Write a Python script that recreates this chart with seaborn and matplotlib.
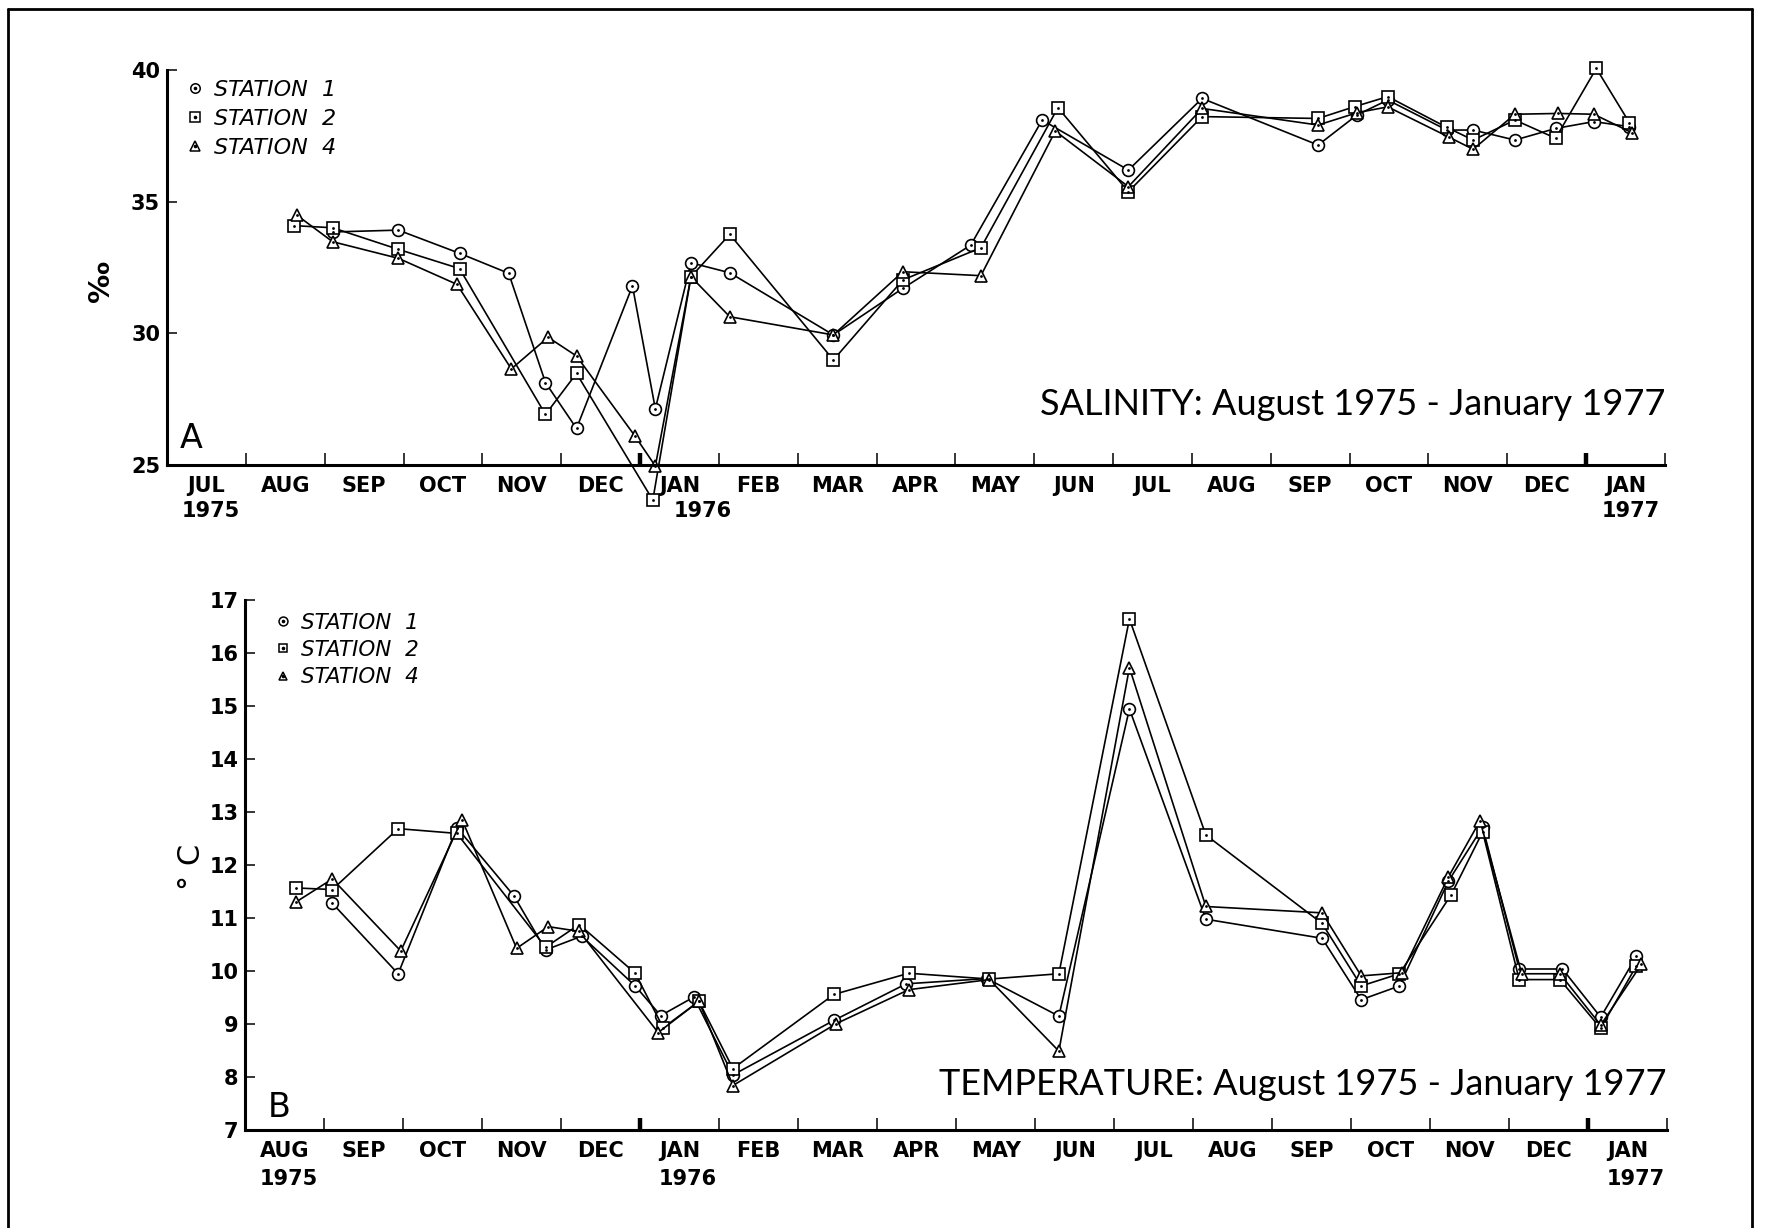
import numpy as np
import pandas as pd
import matplotlib
matplotlib.use("Agg")
import matplotlib.pyplot as plt
import seaborn as sns
from matplotlib.lines import Line2D
from matplotlib.legend_handler import HandlerTuple

# ------------------------------------------------------------------ data
STATIONS = ["STATION  1", "STATION  2", "STATION  4"]

MONTH_LABELS = ["JUL", "AUG", "SEP", "OCT", "NOV", "DEC", "JAN", "FEB", "MAR",
                "APR", "MAY", "JUN", "JUL", "AUG", "SEP", "OCT", "NOV", "DEC", "JAN"]

# Salinity (per mille)
sal_dates_st1 = ["1975-09-04", "1975-09-29", "1975-10-23", "1975-11-11", "1975-11-25",
                 "1975-12-07", "1975-12-29", "1976-01-07", "1976-01-21", "1976-02-05",
                 "1976-03-15", "1976-04-11", "1976-05-07", "1976-06-04", "1976-07-07",
                 "1976-08-05", "1976-09-19", "1976-10-04", "1976-10-16", "1976-11-08",
                 "1976-11-18", "1976-12-04", "1976-12-20", "1977-01-04", "1977-01-18"]
sal_st1 = [33.85, 33.92, 33.04, 32.28, 28.13, 26.39, 31.80, 27.13, 32.68, 32.30,
           29.94, 31.71, 33.35, 38.10, 36.20, 38.92, 37.15, 38.30, 38.86, 37.72,
           37.72, 37.34, 37.78, 38.04, 37.85]

sal_dates_st2 = ["1975-08-20", "1975-09-04", "1975-09-29", "1975-10-23", "1975-11-25",
                 "1975-12-07", "1976-01-06", "1976-01-21", "1976-02-05", "1976-03-15",
                 "1976-04-11", "1976-05-11", "1976-06-10", "1976-07-07", "1976-08-05",
                 "1976-09-19", "1976-10-03", "1976-10-16", "1976-11-08", "1976-11-18",
                 "1976-12-04", "1976-12-20", "1977-01-05", "1977-01-18"]
sal_st2 = [34.09, 34.01, 33.19, 32.46, 26.92, 28.48, 23.67, 32.15, 33.76, 28.99,
           32.03, 33.25, 38.57, 35.38, 38.23, 38.16, 38.61, 38.99, 37.82, 37.34,
           38.10, 37.41, 40.06, 38.00]

sal_dates_st4 = ["1975-08-21", "1975-09-04", "1975-09-29", "1975-10-22", "1975-11-12",
                 "1975-11-26", "1975-12-07", "1975-12-30", "1976-01-07", "1976-01-21",
                 "1976-02-05", "1976-03-15", "1976-04-11", "1976-05-11", "1976-06-09",
                 "1976-07-07", "1976-08-05", "1976-09-19", "1976-10-04", "1976-10-16",
                 "1976-11-09", "1976-11-18", "1976-12-04", "1976-12-21", "1977-01-04",
                 "1977-01-19"]
sal_st4 = [34.49, 33.48, 32.85, 31.86, 28.65, 29.85, 29.14, 26.10, 24.96, 32.15,
           30.63, 29.94, 32.34, 32.19, 37.68, 35.57, 38.54, 37.91, 38.38, 38.60,
           37.44, 36.99, 38.32, 38.35, 38.32, 37.62]

# Temperature (deg C)
tmp_dates_st1 = ["1975-09-04", "1975-09-29", "1975-10-22", "1975-11-13", "1975-11-25",
                 "1975-12-09", "1975-12-30", "1976-01-09", "1976-01-22", "1976-02-06",
                 "1976-03-15", "1976-04-12", "1976-05-13", "1976-06-10", "1976-07-07",
                 "1976-08-06", "1976-09-20", "1976-10-05", "1976-10-20", "1976-11-08",
                 "1976-11-21", "1976-12-05", "1976-12-22", "1977-01-06", "1977-01-20"]
tmp_st1 = [11.28, 9.95, 12.71, 11.42, 10.40, 10.66, 9.72, 9.16, 9.51, 8.04,
           9.07, 9.76, 9.86, 9.15, 14.95, 10.98, 10.62, 9.46, 9.72, 11.70,
           12.72, 10.04, 10.04, 9.13, 10.28]

tmp_dates_st2 = ["1975-08-21", "1975-09-04", "1975-09-29", "1975-10-22", "1975-11-25",
                 "1975-12-08", "1975-12-30", "1976-01-10", "1976-01-24", "1976-02-06",
                 "1976-03-15", "1976-04-13", "1976-05-14", "1976-06-10", "1976-07-07",
                 "1976-08-06", "1976-09-20", "1976-10-05", "1976-10-20", "1976-11-09",
                 "1976-11-21", "1976-12-05", "1976-12-21", "1977-01-06", "1977-01-20"]
tmp_st2 = [11.57, 11.54, 12.69, 12.60, 10.45, 10.88, 9.96, 8.93, 9.43, 8.16,
           9.56, 9.96, 9.85, 9.95, 16.65, 12.57, 10.90, 9.72, 9.95, 11.44,
           12.63, 9.84, 9.84, 8.92, 10.10]

tmp_dates_st4 = ["1975-08-21", "1975-09-04", "1975-09-30", "1975-10-24", "1975-11-14",
                 "1975-11-26", "1975-12-08", "1976-01-08", "1976-01-24", "1976-02-06",
                 "1976-03-16", "1976-04-13", "1976-05-14", "1976-06-10", "1976-07-07",
                 "1976-08-06", "1976-09-20", "1976-10-05", "1976-10-21", "1976-11-08",
                 "1976-11-20", "1976-12-06", "1976-12-21", "1977-01-06", "1977-01-22"]
tmp_st4 = [11.31, 11.74, 10.38, 12.86, 10.43, 10.84, 10.75, 8.84, 9.43, 7.84,
           9.01, 9.65, 9.84, 8.49, 15.73, 11.22, 11.10, 9.91, 9.97, 11.78,
           12.84, 9.95, 9.95, 8.98, 10.13]


def month_position(dates):
    """Months since 1 July 1975, each calendar month drawn with equal width."""
    d = pd.to_datetime(pd.Series(dates))
    pos = (d.dt.year - 1975) * 12 + (d.dt.month - 7) + (d.dt.day - 1) / d.dt.days_in_month
    return pos.to_numpy(dtype=float)


def long_table(date_lists, value_lists):
    parts = [pd.DataFrame({"station": s, "month": month_position(d), "value": v})
             for s, d, v in zip(STATIONS, date_lists, value_lists)]
    return pd.concat(parts, ignore_index=True)


salinity = long_table([sal_dates_st1, sal_dates_st2, sal_dates_st4],
                      [sal_st1, sal_st2, sal_st4])
temperature = long_table([tmp_dates_st1, tmp_dates_st2, tmp_dates_st4],
                         [tmp_st1, tmp_st2, tmp_st4])

MARKERS = dict(zip(STATIONS, ["o", "s", "^"]))

# ------------------------------------------------------------------ style
sns.set_theme(style="ticks")
plt.rcParams["font.family"] = ["DejaVu Sans"]
plt.rcParams["axes.edgecolor"] = "black"
plt.rcParams["xtick.color"] = "black"
plt.rcParams["ytick.color"] = "black"
plt.rcParams["text.color"] = "black"

fig = plt.figure(figsize=(17.66, 12.28), dpi=100)
ax_s = fig.add_axes([0.0946, 0.6213, 0.8482, 0.3217])
ax_t = fig.add_axes([0.139, 0.0798, 0.8049, 0.4313])


def draw_series(ax, df):
    sns.lineplot(data=df, x="month", y="value", style="station", markers=MARKERS,
                 dashes=False, color="black", estimator=None, sort=False,
                 linewidth=1.2, markersize=8.5, markerfacecolor="white",
                 markeredgecolor="black", markeredgewidth=1.2, legend=False,
                 clip_on=False, ax=ax)
    sns.scatterplot(data=df, x="month", y="value", color="black", s=4,
                    linewidth=0, legend=False, clip_on=False, ax=ax, zorder=5)


def style_axis(ax, xmin, ylim, yticks, year_marks, year_offset):
    ax.set_xlim(xmin, 19)
    ax.set_ylim(*ylim)
    sns.despine(ax=ax)
    for side in ("left", "bottom"):
        ax.spines[side].set_linewidth(2.2)
        ax.spines[side].set_color("black")
    ax.set_xlabel("")
    ax.set_ylabel("")

    # month boundaries as ticks, month names centred between them
    ax.set_xticks(np.arange(xmin + 1, 20))
    ax.set_xticklabels([])
    ax.set_xticks(np.arange(xmin, 19) + 0.5, minor=True)
    ax.set_xticklabels(MONTH_LABELS[xmin:], minor=True, fontweight="bold", fontsize=15)
    ax.tick_params(axis="x", which="major", direction="in", length=8.5, width=1.1)
    ax.tick_params(axis="x", which="minor", length=0, pad=8)
    for t in ax.xaxis.get_major_ticks():
        if abs(t.get_loc() - 6) < 1e-6 or abs(t.get_loc() - 18) < 1e-6:
            t.tick1line.set_markeredgewidth(3.2)

    ax.set_yticks(yticks)
    ax.set_yticklabels([str(v) for v in yticks], fontweight="bold", fontsize=15)
    ax.tick_params(axis="y", direction="in", length=7, width=1.1, pad=5)

    for x, yr in year_marks:
        ax.annotate(yr, xy=(x, 0), xycoords=("data", "axes fraction"),
                    xytext=(0, year_offset), textcoords="offset points",
                    ha="center", va="center", fontsize=15, fontweight="bold")


def station_legend(ax, anchor, size, msize, spacing):
    handles = []
    for s in STATIONS:
        ring = Line2D([], [], ls="none", marker=MARKERS[s], ms=msize, mfc="white",
                      mec="black", mew=1.1)
        dot = Line2D([], [], ls="none", marker="o", ms=1.6, mfc="black", mec="black")
        handles.append((ring, dot))
    ax.legend(handles, STATIONS, handler_map={tuple: HandlerTuple(ndivide=1)},
              loc="upper left", bbox_to_anchor=anchor, frameon=False,
              prop={"style": "italic", "size": size}, handlelength=1.0,
              handletextpad=0.35, labelspacing=spacing, borderpad=0, borderaxespad=0)


TITLE_FONT = dict(fontsize=26, family=["Lato", "DejaVu Sans"], fontweight="normal")

# ------------------------------------------------------------------ A: salinity
draw_series(ax_s, salinity)
style_axis(ax_s, 0, (25, 40), [25, 30, 35, 40],
           [(0.55, "1975"), (6.8, "1976"), (18.57, "1977")], -33)
station_legend(ax_s, (0.011, 0.975), 16, 6.8, 0.40)
ax_s.text(1.0, 0.152, "SALINITY: August 1975 - January 1977", transform=ax_s.transAxes,
          ha="right", va="center", **TITLE_FONT)
ax_s.text(0.016, 0.066, "A", transform=ax_s.transAxes, ha="center", va="center",
          fontsize=24)

# ------------------------------------------------------------------ B: temperature
draw_series(ax_t, temperature)
style_axis(ax_t, 1, (7, 17), list(range(7, 18)),
           [(1.55, "1975"), (6.6, "1976"), (18.6, "1977")], -35)
station_legend(ax_t, (0.0186, 0.977), 15.5, 6.4, 0.34)
ax_t.text(1.0, 0.085, "TEMPERATURE: August 1975 - January 1977", transform=ax_t.transAxes,
          ha="right", va="center", **TITLE_FONT)
ax_t.text(0.0236, 0.043, "B", transform=ax_t.transAxes, ha="center", va="center",
          fontsize=24)

# axis titles
fig.text(101 / 1766, 1 - 281 / 1228, "\u2030", rotation=90, ha="center", va="center",
         fontsize=21, fontweight="bold")
fig.text(191 / 1766, 1 - 867 / 1228, "\u00b0 C", rotation=90, ha="center", va="center",
         fontsize=22)

# page frame, open at the bottom
frame_kw = dict(color="black", lw=2, transform=fig.transFigure)
fig.add_artist(Line2D([0.0045, 0.0045], [0.0, 0.9927], **frame_kw))
fig.add_artist(Line2D([0.0045, 0.992], [0.9927, 0.9927], **frame_kw))
fig.add_artist(Line2D([0.992, 0.992], [0.9927, 0.0], **frame_kw))

fig.savefig("out.png", dpi=100, facecolor="white")
